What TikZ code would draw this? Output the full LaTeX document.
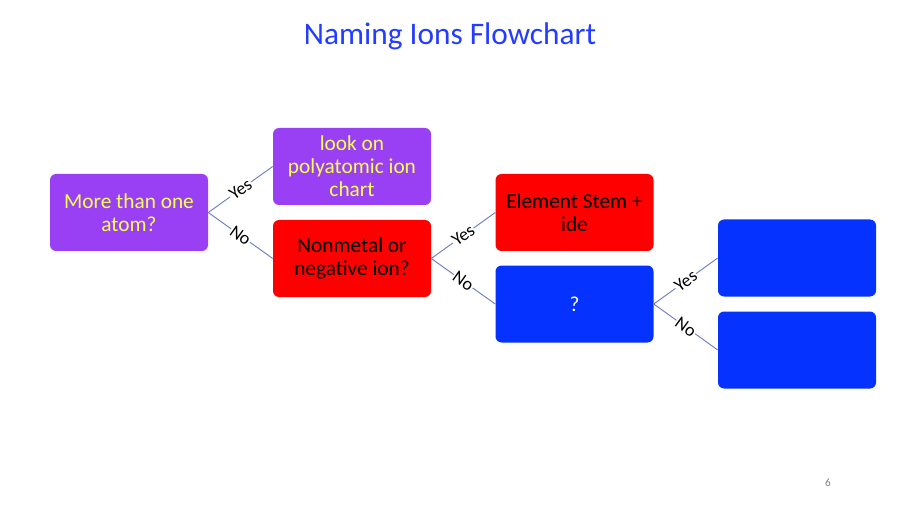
\documentclass[tikz,border=0pt]{standalone}
\usepackage{fontspec}
\setmainfont{Carlito}
\definecolor{ionpurple}{RGB}{153,64,245}
\definecolor{ionred}{RGB}{255,0,0}
\definecolor{ionblue}{RGB}{5,50,255}
\definecolor{titleblue}{RGB}{35,60,255}
\definecolor{ionyellow}{RGB}{255,255,80}
\definecolor{linkblue}{RGB}{110,125,195}
\begin{document}
\begin{tikzpicture}[x=0.75pt,y=-0.75pt,
    box/.style={rounded corners=4.5pt, minimum width=118.5pt, minimum height=57.75pt,
      align=center, inner sep=2pt, font=\fontsize{16}{17.3}\selectfont},
    purplebox/.style={box, fill=ionpurple, text=ionyellow},
    redbox/.style={box, fill=ionred, text=black},
    bluebox/.style={box, fill=ionblue, text=white},
    link/.style={draw=linkblue, line width=0.7pt},
    answer/.style={fill=white, sloped, inner sep=0.6pt, font=\fontsize{13.5}{15}\selectfont}]
  % Page frame
  \useasboundingbox (0,0) rectangle (900,506);

  % Title
  \node[text=titleblue, font=\fontsize{23.5}{28}\selectfont] (title) at (450,36) {Naming Ions Flowchart};

  % First question and its answers
  \node[purplebox] (atoms) at (129,212.5) {More than one\\atom?};
  \node[purplebox] (poly) at (352,166.5) {look on\\polyatomic ion\\chart};
  \node[redbox] (nonmetal) at (352,258.5) {Nonmetal or\\negative ion?};

  % Second question and its answers
  \node[redbox] (stem) at (574.5,212.5) {Element Stem +\\ide};
  \node[bluebox] (unknown) at (574.5,304) {?};

  % Empty boxes on the right
  \node[bluebox] (yesbox) at (797,258) {};
  \node[bluebox] (nobox) at (797,350) {};

  % Connectors with Yes / No labels
  \draw[link] (atoms.east) -- node[answer] {Yes} (poly.west);
  \draw[link] (atoms.east) -- node[answer] {No} (nonmetal.west);
  \draw[link] (nonmetal.east) -- node[answer] {Yes} (stem.west);
  \draw[link] (nonmetal.east) -- node[answer] {No} (unknown.west);
  \draw[link] (unknown.east) -- node[answer] {Yes} (yesbox.west);
  \draw[link] (unknown.east) -- node[answer] {No} (nobox.west);

  % Page number
  \node[text=gray, font=\fontsize{8.5}{10}\selectfont] (page) at (828,483) {6};
\end{tikzpicture}
\end{document}
